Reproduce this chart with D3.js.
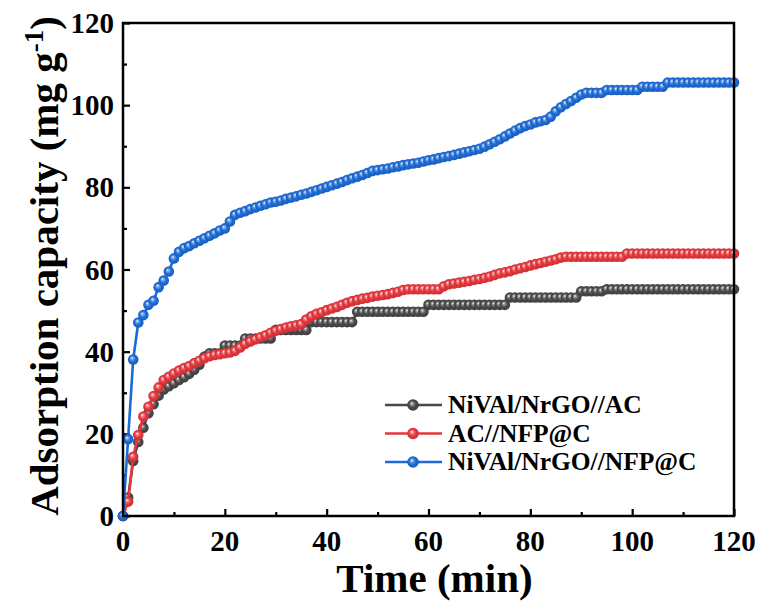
<!DOCTYPE html>
<html><head><meta charset="utf-8">
<script src="https://cdn.jsdelivr.net/npm/d3@7"></script>
<style>body{margin:0;background:#fff}svg{display:block}</style>
</head><body>
<svg id="c" width="760" height="601"></svg>
<script>
const times = d3.range(0, 121);
const xTicks = [0, 20, 40, 60, 80, 100, 120];
const yTicks = [0, 20, 40, 60, 80, 100, 120];
const seriesNames = ["NiVAl/NrGO//AC", "AC//NFP@C", "NiVAl/NrGO//NFP@C"];
const seriesColors = ["#484848", "#e6353b", "#1c6ad6"];

const grayVals = [0,4.5,13.4,18.0,21.5,25.0,27.2,29.3,30.8,31.6,32.3,33.1,33.8,34.6,35.6,36.8,38.8,39.6,39.6,39.6,
41.5,41.5,41.5,41.5,43.2,43.2,43.2,43.2,43.2,43.2,45.3,45.3,45.3,45.3,45.3,45.3,45.3,47.2,47.2,47.2,
47.2,47.2,47.2,47.2,47.2,47.2,49.7,49.7,49.7,49.7,49.7,49.7,49.7,49.7,49.7,49.7,49.7,49.7,49.7,49.7,
51.4,51.4,51.4,51.4,51.4,51.4,51.4,51.4,51.4,51.4,51.4,51.4,51.4,51.4,51.4,51.4,53.2,53.2,53.2,53.2,
53.2,53.2,53.2,53.2,53.2,53.2,53.2,53.2,53.2,53.2,54.7,54.7,54.7,54.7,54.7,55.2,55.2,55.2,55.2,55.2,
55.2,55.2,55.2,55.2,55.2,55.2,55.2,55.2,55.2,55.2,55.2,55.2,55.2,55.2,55.2,55.2,55.2,55.2,55.2,55.2,55.2];

const redVals = [0,3.5,14.4,19.7,24.2,26.6,29.2,31.3,33.1,33.9,34.7,35.4,36.0,36.5,37.2,37.8,38.4,38.9,39.2,39.4,
39.6,39.8,40.2,41.0,41.9,42.5,43.0,43.5,44.0,44.6,45.1,45.5,45.9,46.2,46.4,46.7,47.8,48.6,49.2,49.6,
50.1,50.5,50.9,51.4,51.9,52.3,52.6,52.9,53.1,53.4,53.6,53.8,54.0,54.3,54.6,55.0,55.2,55.2,55.2,55.2,
55.2,55.2,55.2,55.9,56.4,56.6,56.8,57.0,57.2,57.5,57.7,58.0,58.3,58.7,59.1,59.3,59.6,60.0,60.3,60.6,
61.0,61.3,61.6,61.9,62.2,62.5,62.9,63.1,63.1,63.1,63.1,63.1,63.1,63.1,63.1,63.1,63.1,63.1,63.1,63.9,
63.9,63.9,63.9,63.9,63.9,63.9,63.9,63.9,63.9,63.9,63.9,63.9,63.9,63.9,63.9,63.9,63.9,63.9,63.9,63.9,63.9];

const blueVals = [0,18.7,38.1,47.1,48.9,51.4,52.4,55.7,57.3,59.5,62.7,64.3,65.2,65.7,66.4,67.0,67.6,68.2,68.8,69.5,
70.0,71.7,73.3,73.8,74.2,74.7,75.1,75.5,75.9,76.3,76.5,76.8,77.2,77.5,77.8,78.2,78.5,78.9,79.3,79.7,
80.1,80.5,80.9,81.3,81.8,82.2,82.6,83.0,83.5,84.0,84.2,84.4,84.6,84.9,85.1,85.4,85.6,85.8,86.0,86.3,
86.6,86.8,87.1,87.4,87.6,87.9,88.2,88.5,88.8,89.1,89.4,89.9,90.5,91.1,91.7,92.4,93.1,93.8,94.4,94.9,
95.3,95.8,96.1,96.4,97.2,98.5,99.5,100.3,101.0,101.8,102.6,103.0,103.0,103.0,103.0,103.7,103.7,103.7,103.7,103.7,
103.7,103.7,104.5,104.5,104.5,104.5,104.5,105.5,105.5,105.5,105.5,105.5,105.5,105.5,105.5,105.5,105.5,105.5,105.5,105.5,105.5];

const allSeries = [grayVals, redVals, blueVals];

const svg = d3.select("#c");
const L = 123, R = 734, T = 23, B = 516;
const x = d3.scaleLinear().domain([0, 120]).range([L, R]);
const y = d3.scaleLinear().domain([0, 120]).range([B, T]);
const font = "'Liberation Serif','Times New Roman',serif";

// gradients (glossy ball markers)
const defs = svg.append("defs");
seriesColors.forEach((c, i) => {
  const g = defs.append("radialGradient").attr("id", "g" + i)
    .attr("cx", "50%").attr("cy", "50%").attr("r", "55%").attr("fx", "38%").attr("fy", "35%");
  g.append("stop").attr("offset", "0%").attr("stop-color", "#ffffff");
  g.append("stop").attr("offset", "22%").attr("stop-color", d3.interpolateRgb("#ffffff", c)(0.6));
  g.append("stop").attr("offset", "55%").attr("stop-color", c);
  g.append("stop").attr("offset", "100%").attr("stop-color", d3.color(c).darker(0.4));
});

// axes ticks (inward)
const xAxis = d3.axisBottom(x).tickValues(d3.range(0, 121, 10)).tickSizeInner(-7).tickSizeOuter(0).tickFormat("");
const gx = svg.append("g").attr("transform", `translate(0,${B})`).call(xAxis);
gx.selectAll(".tick line").attr("stroke", "#000").attr("stroke-width", 2.2)
  .attr("y2", d => d % 20 === 0 ? -7 : -4);
gx.select(".domain").remove();
const yAxis = d3.axisLeft(y).tickValues(d3.range(0, 121, 10)).tickSizeInner(-7).tickSizeOuter(0).tickFormat("");
const gy = svg.append("g").attr("transform", `translate(${L},0)`).call(yAxis);
gy.selectAll(".tick line").attr("stroke", "#000").attr("stroke-width", 2.2)
  .attr("x2", d => d % 20 === 0 ? 7 : 4);
gy.select(".domain").remove();

// tick labels
svg.append("g").selectAll("text").data(xTicks).join("text")
  .attr("x", d => x(d)).attr("y", B + 35).attr("text-anchor", "middle")
  .attr("font-family", font).attr("font-weight", "bold").attr("font-size", 29).text(d => d);
svg.append("g").selectAll("text").data(yTicks).join("text")
  .attr("x", L - 9).attr("y", d => y(d) + 10).attr("text-anchor", "end")
  .attr("font-family", font).attr("font-weight", "bold").attr("font-size", 29).text(d => d);

// axis titles
svg.append("text").attr("x", (L + R) / 2 + 6).attr("y", 592).attr("text-anchor", "middle")
  .attr("font-family", font).attr("font-weight", "bold").attr("font-size", 41).text("Time (min)");
const yt = svg.append("text").attr("transform", `translate(58,${266}) rotate(-90)`)
  .attr("text-anchor", "middle").attr("font-family", font).attr("font-weight", "bold").attr("font-size", 41);
yt.append("tspan").text("Adsorption capacity (mg g");
yt.append("tspan").attr("dy", -15).attr("font-size", 27).text("-1");
yt.append("tspan").attr("dy", 15).text(")");

// series
const line = d3.line().x((d, i) => x(times[i])).y(d => y(d));
allSeries.forEach((vals, s) => {
  const g = svg.append("g");
  g.append("path").datum(vals).attr("d", line).attr("fill", "none")
    .attr("stroke", seriesColors[s]).attr("stroke-width", 2.6);
  g.selectAll("circle").data(vals).join("circle")
    .attr("cx", (d, i) => x(times[i])).attr("cy", d => y(d)).attr("r", 5.3)
    .attr("fill", `url(#g${s})`);
});

// frame
svg.append("rect").attr("x", L).attr("y", T).attr("width", R - L).attr("height", B - T)
  .attr("fill", "none").attr("stroke", "#000").attr("stroke-width", 2.5);

// legend
const leg = svg.append("g");
seriesNames.forEach((n, i) => {
  const yy = 405 + i * 28.5;
  leg.append("line").attr("x1", 385).attr("x2", 442).attr("y1", yy).attr("y2", yy)
    .attr("stroke", seriesColors[i]).attr("stroke-width", 2.6);
  leg.append("circle").attr("cx", 413).attr("cy", yy).attr("r", 5.8).attr("fill", `url(#g${i})`);
  leg.append("text").attr("x", 448).attr("y", yy + 8).attr("font-family", font)
    .attr("font-weight", "bold").attr("font-size", 25.5).text(n);
});
</script>
</body></html>
